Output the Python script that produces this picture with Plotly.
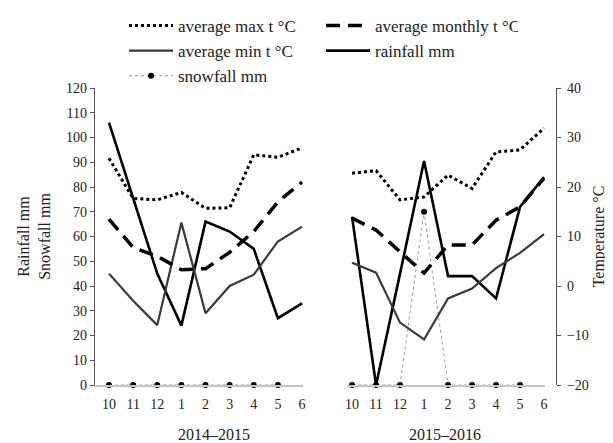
import plotly.graph_objects as go

months = ["10", "11", "12", "1", "2", "3", "4", "5", "6"]
seasons = ["2014–2015", "2015–2016"]

# 2014-2015
max_t_1415 = [25.8, 17.7, 17.4, 18.9, 15.7, 15.8, 26.5, 26.0, 27.9]
mean_t_1415 = [13.5, 7.8, 6.0, 3.3, 3.5, 6.8, 11.0, 17.0, 21.0]
min_t_1415 = [2.5, -3.0, -7.9, 12.8, -5.5, 0.0, 2.3, 9.0, 12.0]
rain_1415 = [106, 75, 45, 24, 66, 62, 55, 27, 33]
snow_1415 = [0, 0, 0, 0, 0, 0, 0, 0, None]

# 2015-2016
max_t_1516 = [22.8, 23.3, 17.4, 18.0, 22.4, 19.7, 27.1, 27.5, 31.9]
mean_t_1516 = [13.7, 11.3, 6.9, 2.6, 8.3, 8.3, 13.3, 16.0, 21.8]
min_t_1516 = [4.7, 2.7, -7.4, -10.8, -2.5, -0.5, 3.6, 6.7, 10.5]
rain_1516 = [68, 0, 45, 90.5, 44, 44, 35, 72, 84]
snow_1516 = [0, 0, 0, 70, 0, 0, 0, 0, None]

FONT = "Liberation Serif, Times New Roman, serif"

fig = go.Figure()

panels = [
    ("x", "y", "y2", max_t_1415, mean_t_1415, min_t_1415, rain_1415, snow_1415, True),
    ("x2", "y3", "y4", max_t_1516, mean_t_1516, min_t_1516, rain_1516, snow_1516, False),
]

for xa, ya_rain, ya_temp, mx, mn, mi, rn, sn, show in panels:
    fig.add_trace(go.Scatter(
        x=months, y=sn, xaxis=xa, yaxis=ya_rain, name="snowfall mm",
        legendgroup="snow", showlegend=show, legendrank=5,
        mode="lines+markers", cliponaxis=False,
        line=dict(color="#9a9a9a", width=1, dash="dot"),
        marker=dict(color="black", size=6)))
    fig.add_trace(go.Scatter(
        x=months, y=mi, xaxis=xa, yaxis=ya_temp, name="average min t °C",
        legendgroup="min", showlegend=show, legendrank=3,
        mode="lines", line=dict(color="#3a3a3a", width=2.2)))
    fig.add_trace(go.Scatter(
        x=months, y=rn, xaxis=xa, yaxis=ya_rain, name="rainfall mm",
        legendgroup="rain", showlegend=show, legendrank=4,
        mode="lines", line=dict(color="black", width=2.6)))
    fig.add_trace(go.Scatter(
        x=months, y=mn, xaxis=xa, yaxis=ya_temp, name="average monthly t °C",
        legendgroup="mean", showlegend=show, legendrank=2,
        mode="lines", line=dict(color="black", width=3.5, dash="14px,8px")))
    fig.add_trace(go.Scatter(
        x=months, y=mx, xaxis=xa, yaxis=ya_temp, name="average max t °C",
        legendgroup="max", showlegend=show, legendrank=1,
        mode="lines", line=dict(color="black", width=3, dash="dot")))

# page body has an 8px margin: figure is drawn 8px right/down
OFF = 8
L, R = 95, 556          # plot area left/right in page pixels
TOP, BOT = 88, 385      # plot area top/bottom in page pixels
W = R - L
FW, FH = 613 - OFF, 443 - OFF

def px(v):
    return (v - L) / W

xcommon = dict(type="category", showgrid=False, zeroline=False,
               showline=True, linecolor="#c4c4c4", linewidth=1.5,
               ticks="", ticklabelstandoff=5,
               tickfont=dict(family=FONT, size=14, color="#222"))
ycommon = dict(showgrid=False, zeroline=False, dtick=10,
               tickfont=dict(family=FONT, size=14, color="#222"))

fig.update_layout(
    width=FW, height=FH,
    margin=dict(l=L - OFF, r=FW - (R - OFF), t=TOP - OFF, b=FH - (BOT - OFF),
                autoexpand=False),
    paper_bgcolor="white", plot_bgcolor="rgba(0,0,0,0)",
    font=dict(family=FONT, color="#222"),
    xaxis=dict(domain=[0, px(303)], range=[-0.58, 8.04], anchor="y", **xcommon),
    xaxis2=dict(domain=[px(347), px(545)], range=[-0.21, 8.04], anchor="y3", **xcommon),
    yaxis=dict(range=[0, 120], anchor="x", side="left", showline=True,
               linecolor="#555", linewidth=1.2, ticks="outside", ticklen=4,
               tickcolor="#555",
               title=dict(text="Rainfall mm<br>Snowfall mm", standoff=11,
                          font=dict(family=FONT, size=16, color="#222")),
               **ycommon),
    yaxis2=dict(range=[-20, 40], anchor="x", overlaying="y", visible=False, **ycommon),
    yaxis3=dict(range=[0, 120], anchor="x2", overlaying="y", visible=False, **ycommon),
    yaxis4=dict(range=[-20, 40], anchor="free", position=1.0, overlaying="y",
                side="right", showline=True, linecolor="#555", linewidth=1.2,
                ticks="outside", ticklen=4, tickcolor="#555", ticklabelstandoff=3,
                title=dict(text="Temperature °C", standoff=4,
                           font=dict(family=FONT, size=16, color="#222")),
                **ycommon),
    legend=dict(orientation="h", x=px(124), xanchor="left",
                yref="container", y=1.0, yanchor="top",
                entrywidth=138, entrywidthmode="pixels", itemwidth=44,
                font=dict(family=FONT, size=17, color="#222"),
                bgcolor="rgba(0,0,0,0)", traceorder="normal"),
    showlegend=True,
    annotations=[
        dict(text=seasons[0], x=px(214), y=0, xref="paper", yref="paper",
             yshift=-49, showarrow=False, xanchor="center", yanchor="middle",
             font=dict(family=FONT, size=16, color="#222")),
        dict(text=seasons[1], x=px(445), y=0, xref="paper", yref="paper",
             yshift=-49, showarrow=False, xanchor="center", yanchor="middle",
             font=dict(family=FONT, size=16, color="#222")),
    ],
)

fig.write_html("out.html")
